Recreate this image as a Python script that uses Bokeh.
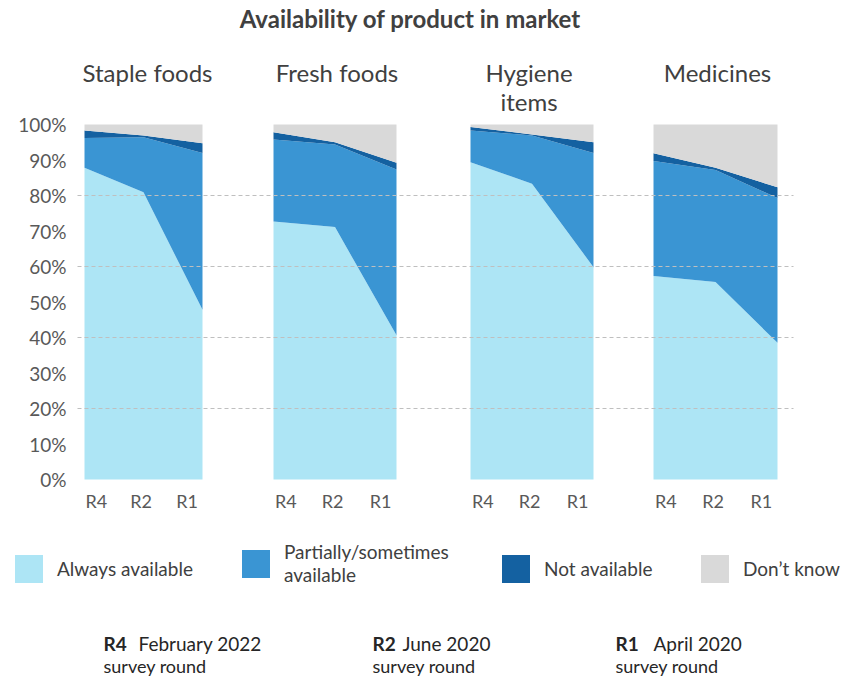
from bokeh.plotting import figure
from bokeh.models import Range1d, Legend, LegendItem, ColumnDataSource
from bokeh.core.properties import value
from bokeh.embed import file_html
from bokeh.resources import INLINE

# ---------------- data ----------------
categories = ["Staple foods", "Fresh foods", "Hygiene\nitems", "Medicines"]
rounds = ["R4", "R2", "R1"]
round_dates = ["February 2022", "June 2020", "April 2020"]
statuses = ["Always available", "Partially/sometimes\navailable", "Not available", "Don\u2019t know"]

always_available = [[87.8, 80.9, 47.8], [72.7, 71.1, 40.6], [89.4, 83.3, 59.8], [57.3, 55.6, 38.5]]
partially_available = [[8.4, 15.5, 44.2], [23.1, 23.3, 46.7], [8.9, 13.6, 32.2], [32.4, 31.6, 40.8]]
not_available = [[2.1, 0.5, 2.7], [2.0, 0.6, 1.9], [1.0, 0.3, 3.0], [2.2, 0.6, 3.0]]
dont_know = [[1.7, 3.1, 5.3], [2.2, 5.0, 10.8], [0.7, 2.8, 5.0], [8.1, 12.2, 17.7]]

y_ticks = [0, 10, 20, 30, 40, 50, 60, 70, 80, 90, 100]
grid_ticks = [20, 40, 60, 80]

# ---------------- style / layout ----------------
colors = ["#ADE5F5", "#3A95D3", "#1461A1", "#D9D9D9"]
FONT = value("Lato")
TXT = "#404040"
GREY = "#595959"
W, H = 846, 677
Y0_PX, PX_PER_PCT = 479, 3.55          # where 0% sits, and pixels per percentage point
panel_left = [84, 273, 470, 653]
panel_width = [118, 123, 123, 124]
label_frac = [0.1, 0.48, 0.87]
title_dx = [4, 2, -3, 2]
legend_x = [11, 238, 498, 697]


def yd(ref_y):
    """layout helper: pixel row -> y position in the chart's percentage units"""
    return (Y0_PX - ref_y) / PX_PER_PCT


p = figure(width=W, height=H, output_backend="svg", toolbar_location=None, title=None,
           x_range=Range1d(0, W), y_range=Range1d(yd(H), yd(0)),
           x_axis_location=None, y_axis_location=None, min_border=0,
           outline_line_color=None, background_fill_color="white", border_fill_color="white")
p.grid.visible = False

layers = [always_available, partially_available, not_available, dont_know]
keys = ["a", "p", "n", "d"]
first_renderers = []
tick_x, tick_text = [], []
for k in range(len(categories)):
    xs = [panel_left[k] + panel_width[k] * f for f in (0.0, 0.5, 1.0)]
    data = {"x": xs}
    for key, layer in zip(keys, layers):
        data[key] = layer[k]
    rs = p.varea_stack(stackers=keys, x="x", source=ColumnDataSource(data), color=colors)
    if k == 0:
        first_renderers = rs
    for j, r in enumerate(rounds):
        tick_x.append(panel_left[k] + panel_width[k] * label_frac[j])
        tick_text.append(r)

# dashed gridlines on top of the areas
p.segment(x0=77, x1=793, y0=grid_ticks, y1=grid_ticks, line_color="#BFBFBF",
          line_width=1, line_dash="4 3")

# y tick labels
p.text(x=66, y=y_ticks, text=[f"{t}%" for t in y_ticks], text_align="right",
       text_baseline="middle", text_font=FONT, text_font_size="19px", text_color=GREY)

# round labels under each panel
p.text(x=tick_x, y=yd(500), text=tick_text, text_align="center", text_baseline="middle",
       text_font=FONT, text_font_size="18px", text_color=GREY)

# panel titles
p.text(x=[panel_left[k] + panel_width[k] / 2 + title_dx[k] for k in range(len(categories))],
       y=yd(57), text=categories, text_align="center", text_baseline="top", text_font=FONT,
       text_font_size="24px", text_color=TXT, text_line_height=1.02)

# chart title
p.text(x=410, y=yd(18), text=["Availability of product in market"], text_align="center",
       text_baseline="middle", text_font=FONT, text_font_style="bold",
       text_font_size="24px", text_color=TXT)

# legend: one legend box per item so each sits where the reference puts it
for i, (s, r) in enumerate(zip(statuses, first_renderers)):
    lg = Legend(items=[LegendItem(label=s, renderers=[r])], orientation="horizontal",
                location=(legend_x[i], H - 586), glyph_width=35, glyph_height=35,
                label_standoff=11, padding=0, margin=0, spacing=0,
                border_line_color=None, background_fill_alpha=0,
                label_text_font="Lato", label_text_font_size="19px",
                label_text_color=TXT, label_text_line_height=1.1)
    p.add_layout(lg)

# footer: survey round key
footer_x = [103, 372, 615]
date_dx = [35, 30, 38]
p.text(x=footer_x, y=yd(643), text=rounds, text_baseline="middle", text_font=FONT,
       text_font_style="bold", text_font_size="19px", text_color="#262626")
p.text(x=[fx + dx for fx, dx in zip(footer_x, date_dx)], y=yd(643), text=round_dates,
       text_baseline="middle", text_font=FONT, text_font_size="19px", text_color="#262626")
p.text(x=footer_x, y=yd(665), text=["survey round"] * len(rounds), text_baseline="middle",
       text_font=FONT, text_font_size="18px", text_color="#262626")

open("out.html", "w").write(file_html(p, INLINE))
